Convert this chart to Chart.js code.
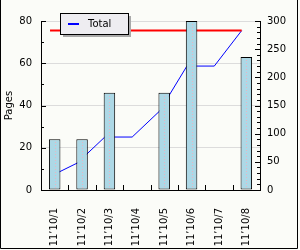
<!DOCTYPE html>
<html>
<head>
<meta charset="utf-8">
<script src="https://cdn.jsdelivr.net/npm/chart.js@4"></script>
<style>
  html, body { margin: 0; padding: 0; background: #fbfcf8; }
  canvas { display: block; }
</style>
</head>
<body>
<canvas id="pagesChart" width="300" height="250"></canvas>
<script>
// chart data
var days = ["11\u201910/1", "11\u201910/2", "11\u201910/3", "11\u201910/4", "11\u201910/5", "11\u201910/6", "11\u201910/7", "11\u201910/8"];
var pages = [24, 24, 46, 0, 46, 80, 0, 63];
var total = [24, 48, 94, 94, 140, 220, 220, 283];
var maxTotal = [283, 283];
var leftTicks = [0, 20, 40, 60, 80];
var rightTicks = [0, 50, 100, 150, 200, 250, 300];

var FONT = { family: "DejaVu Sans", size: 10 };
var lineShift = -0.17; // line points sit a bit left of the bar centres

var totalPts = [];
for (var i = 0; i < total.length; i++) {
    totalPts.push({ x: i + lineShift, y: total[i] });
}
var maxPts = [
    { x: 0 + lineShift, y: maxTotal[0] },
    { x: days.length - 1 + lineShift, y: maxTotal[1] }
];

// background, frame, inward ticks, dotted bar centres, legend box
var decor = {
    id: 'decor',
    beforeDraw: function (chart) {
        var c = chart.ctx;
        c.save();
        c.fillStyle = '#fbfcf8';
        c.fillRect(0, 0, chart.width, chart.height);
        c.restore();
    },
    afterDatasetsDraw: function (chart) {
        var c = chart.ctx;
        c.save();
        // dotted line in the middle of each bar
        var meta = chart.getDatasetMeta(0);
        c.fillStyle = '#e7b5c3';
        meta.data.forEach(function (bar) {
            if (bar.base - bar.y < 2) return;
            var x = Math.round(bar.x);
            for (var y = Math.round(bar.y) + 3; y < bar.base - 1; y += 3) {
                c.fillRect(x, y, 1, 1);
            }
        });
        c.restore();
    },
    afterDraw: function (chart) {
        var c = chart.ctx;
        var a = chart.chartArea;
        var yl = chart.scales.y, yr = chart.scales.y2, xs = chart.scales.x;
        c.save();
        c.strokeStyle = '#000';
        c.lineWidth = 1;
        c.beginPath();
        // left axis ticks
        for (var v = 0; v <= 80; v += 10) {
            var py = Math.round(yl.getPixelForValue(v)) + 0.5;
            var len = (v % 20 === 0) ? 5 : 3;
            c.moveTo(a.left, py); c.lineTo(a.left + len, py);
        }
        // right axis ticks
        for (var w = 0; w <= 300; w += 10) {
            var qy = Math.round(yr.getPixelForValue(w)) + 0.5;
            var l2 = (w % 50 === 0) ? 5 : 3;
            c.moveTo(a.right, qy); c.lineTo(a.right - l2, qy);
        }
        // x ticks between categories
        for (var k = 1; k < days.length; k++) {
            var px = Math.round((xs.getPixelForValue(k - 1) + xs.getPixelForValue(k)) / 2) + 0.5;
            c.moveTo(px, a.bottom); c.lineTo(px, a.bottom - 5);
        }
        c.stroke();

        // outer frame
        c.beginPath();
        c.moveTo(0.5, 0); c.lineTo(0.5, 248.5); c.lineTo(297.5, 248.5); c.lineTo(297.5, 0);
        c.stroke();

        // legend
        var ds = chart.data.datasets[1];
        var bx = 60, by = 13, bw = 68, bh = 21;
        c.fillStyle = '#a9a9a9';
        c.fillRect(bx + 3, by + 3, bw, bh);
        c.fillStyle = '#eeedf1';
        c.fillRect(bx, by, bw, bh);
        c.strokeRect(bx + 0.5, by + 0.5, bw, bh);
        c.fillStyle = ds.borderColor;
        c.fillRect(bx + 8, by + 10, 11, 2);
        c.fillStyle = '#000';
        c.font = FONT.size + 'px ' + FONT.family;
        c.textBaseline = 'middle';
        c.fillText(ds.label, bx + 28, by + 11.5);
        c.restore();
    }
};

var ctx = document.getElementById("pagesChart").getContext('2d');
var pagesChart = new Chart(ctx, {
    type: 'bar',
    data: {
        labels: days,
        datasets: [{
            type: 'bar',
            label: 'Pages',
            data: pages,
            yAxisID: 'y',
            xAxisID: 'x',
            backgroundColor: '#add8e6',
            borderColor: '#000',
            borderWidth: 1,
            borderSkipped: false,
            grouped: false,
            barPercentage: 0.42,
            categoryPercentage: 1,
            order: 0
        }, {
            type: 'line',
            label: 'Total',
            data: totalPts,
            yAxisID: 'y2',
            xAxisID: 'xl',
            borderColor: '#0000ff',
            borderWidth: 1,
            pointRadius: 0,
            tension: 0,
            order: 2
        }, {
            type: 'line',
            label: 'Max',
            data: maxPts,
            yAxisID: 'y2',
            xAxisID: 'xl',
            borderColor: '#ff0000',
            borderWidth: 2,
            pointRadius: 0,
            order: 1
        }]
    },
    options: {
        responsive: false,
        animation: false,
        layout: { padding: { top: 21, left: 0, right: 0, bottom: 0 } },
        plugins: {
            legend: { display: false },
            tooltip: { enabled: false }
        },
        scales: {
            x: {
                type: 'category',
                offset: true,
                grid: { display: false },
                border: { display: true, color: '#000', width: 1 },
                ticks: {
                    color: '#000',
                    font: FONT,
                    minRotation: 90,
                    maxRotation: 90,
                    padding: 10,
                    autoSkip: false
                },
                afterFit: function (s) { s.height = 60; }
            },
            xl: {
                type: 'linear',
                display: false,
                offset: false,
                min: -0.5,
                max: days.length - 0.5
            },
            y: {
                position: 'left',
                min: leftTicks[0],
                max: leftTicks[leftTicks.length - 1],
                afterBuildTicks: function (s) { s.ticks = leftTicks.map(function (v) { return { value: v }; }); },
                grid: { color: '#dcdcdc', drawTicks: false },
                border: { display: true, color: '#000', width: 1 },
                ticks: { color: '#000', font: FONT, padding: 9 },
                title: { display: true, text: 'Pages', color: '#000', font: FONT, padding: { top: 3, bottom: 0 } },
                afterFit: function (s) { s.width = 41; }
            },
            y2: {
                position: 'right',
                min: rightTicks[0],
                max: rightTicks[rightTicks.length - 1],
                afterBuildTicks: function (s) { s.ticks = rightTicks.map(function (v) { return { value: v }; }); },
                grid: { display: false, drawTicks: false },
                border: { display: true, color: '#000', width: 1 },
                ticks: { color: '#000', font: FONT, padding: 7 },
                afterFit: function (s) { s.width = 40; }
            }
        }
    },
    plugins: [decor]
});
</script>
</body>
</html>
